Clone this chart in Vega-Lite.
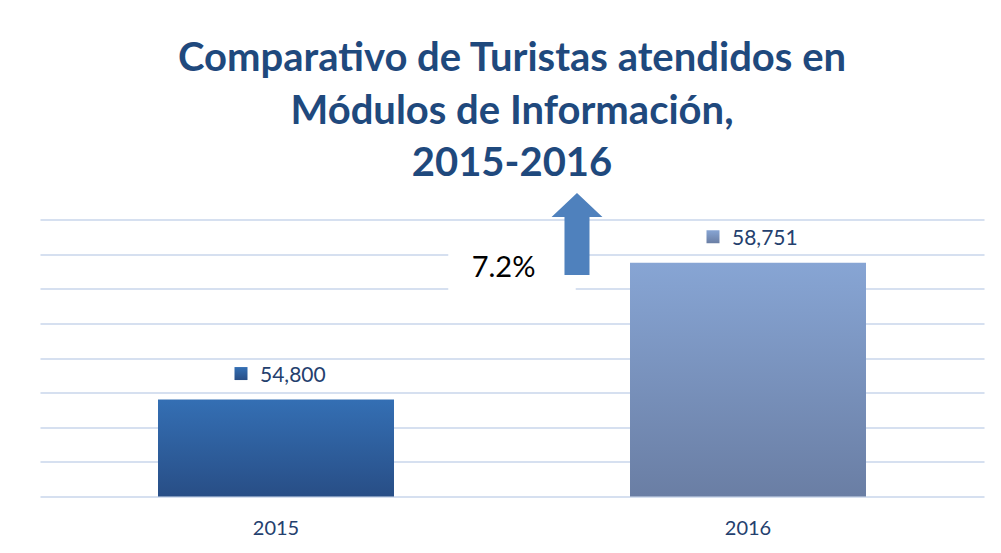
{
  "$schema": "https://vega.github.io/schema/vega-lite/v6.json",
  "width": 944,
  "height": 277,
  "autosize": {"type": "none"},
  "padding": {"left": 40, "top": 219.5, "right": 17, "bottom": 56.5},
  "background": "white",
  "title": {
    "text": ["Comparativo de Turistas atendidos en", "Módulos de Información,", "2015-2016"],
    "font": "Lato",
    "fontSize": 40,
    "fontWeight": "bold",
    "color": "#1F497D",
    "lineHeight": 52.5,
    "anchor": "middle",
    "offset": 9
  },
  "config": {
    "view": {"stroke": null},
    "font": "Lato",
    "axisY": {
      "title": null,
      "labels": false,
      "ticks": false,
      "domain": false,
      "values": [52000, 53000, 54000, 55000, 56000, 57000, 58000, 59000, 60000],
      "grid": true,
      "gridColor": "#D6E0F0",
      "gridWidth": 1.8
    }
  },
  "data": {"values": [{"year": "2015", "turistas": 54800}, {"year": "2016", "turistas": 58751}]},
  "layer": [
    {
      "encoding": {
        "x": {
          "field": "year",
          "type": "nominal",
          "scale": {"domain": ["2015", "2016"], "paddingInner": 0.5, "paddingOuter": 0.25},
          "axis": {
            "title": null,
            "domain": false,
            "ticks": false,
            "labelAngle": 0,
            "labelFont": "Lato",
            "labelFontSize": 20,
            "labelColor": "#24406E",
            "labelPadding": 22
          }
        },
        "y": {
          "field": "turistas",
          "type": "quantitative",
          "scale": {"domain": [52000, 60000], "zero": false, "nice": false},
          "axis": {
            "values": [52000, 53000, 54000, 55000, 56000, 57000, 58000, 59000, 60000]
          }
        }
      },
      "layer": [
        {
          "mark": {"type": "bar"},
          "encoding": {
            "y2": {"datum": 52000},
            "fill": {
              "condition": {
                "test": "datum.year === '2015'",
                "value": {"gradient": "linear", "x1": 0, "y1": 0, "x2": 0, "y2": 1, "stops": [{"offset": 0, "color": "#346FB4"}, {"offset": 1, "color": "#284E86"}]}
              },
              "value": {"gradient": "linear", "x1": 0, "y1": 0, "x2": 0, "y2": 1, "stops": [{"offset": 0, "color": "#87A5D4"}, {"offset": 1, "color": "#6A7EA4"}]}
            }
          }
        },
        {
          "mark": {"type": "point", "shape": "square", "size": 169, "filled": true, "opacity": 1},
          "encoding": {
            "xOffset": {"value": 83},
            "yOffset": {"value": -26},
            "fill": {
              "condition": {
                "test": "datum.year === '2015'",
                "value": {"gradient": "linear", "x1": 0, "y1": 0, "x2": 0, "y2": 1, "stops": [{"offset": 0, "color": "#346FB4"}, {"offset": 1, "color": "#284E86"}]}
              },
              "value": {"gradient": "linear", "x1": 0, "y1": 0, "x2": 0, "y2": 1, "stops": [{"offset": 0, "color": "#87A5D4"}, {"offset": 1, "color": "#6A7EA4"}]}
            }
          }
        },
        {
          "mark": {"type": "text", "align": "left", "baseline": "alphabetic", "dx": -16, "dy": -18, "font": "Lato", "fontSize": 21, "color": "#24406E"},
          "encoding": {"text": {"field": "turistas", "type": "quantitative", "format": ","}}
        }
      ]
    },
    {
      "data": {"values": [{"label": "7.2%"}]},
      "layer": [
        {
          "mark": {"type": "rect", "fill": "white"},
          "encoding": {
            "x": {"datum": 0.865, "type": "quantitative", "scale": {"domain": [0, 2], "nice": false, "zero": false}, "axis": null},
            "x2": {"datum": 1.135},
            "y": {"datum": 57700, "type": "quantitative", "axis": {"values": [52000, 53000, 54000, 55000, 56000, 57000, 58000, 59000, 60000]}},
            "y2": {"datum": 59500}
          }
        },
        {
          "mark": {"type": "point", "shape": "M0,-1 L0.62,-0.415 L0.305,-0.415 L0.305,1 L-0.305,1 L-0.305,-0.415 L-0.62,-0.415 Z", "size": 6724, "filled": true, "fill": "#4F81BD", "opacity": 1, "strokeWidth": 0},
          "encoding": {
            "x": {"datum": 1.1377, "type": "quantitative", "scale": {"domain": [0, 2], "nice": false, "zero": false}, "axis": null},
            "y": {"datum": 59581, "type": "quantitative", "axis": {"values": [52000, 53000, 54000, 55000, 56000, 57000, 58000, 59000, 60000]}}
          }
        },
        {
          "mark": {"type": "text", "align": "center", "baseline": "alphabetic", "font": "Lato", "fontSize": 29, "color": "black"},
          "encoding": {
            "x": {"datum": 0.982, "type": "quantitative", "scale": {"domain": [0, 2], "nice": false, "zero": false}, "axis": null},
            "y": {"datum": 58338, "type": "quantitative", "axis": {"values": [52000, 53000, 54000, 55000, 56000, 57000, 58000, 59000, 60000]}},
            "text": {"field": "label"}
          }
        }
      ]
    }
  ],
  "resolve": {"scale": {"x": "independent"}}
}
